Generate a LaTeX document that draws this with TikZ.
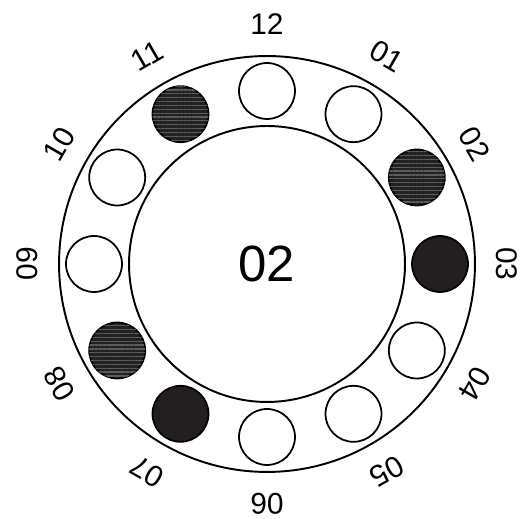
\documentclass[tikz,border=0pt]{standalone}
\usepackage{fontspec}
\setmainfont{Liberation Sans}
\usetikzlibrary{patterns.meta}
\definecolor{holefill}{RGB}{35,31,32}
\definecolor{hatchbase}{RGB}{34,34,34}
\definecolor{hatchline}{RGB}{92,92,92}

\begin{document}
\begin{tikzpicture}[
  x=0.02cm, y=0.02cm,
  ring/.style={draw, circle, line width=1.1pt, inner sep=0pt},
  hole/.style={draw, circle, line width=1pt, minimum size=1.12cm, inner sep=0pt},
  full/.style={hole, fill=holefill},
  part/.style={hole, fill=hatchbase, postaction={pattern={Lines[angle=0, distance=2.2pt, line width=0.7pt]}, pattern color=hatchline}},
  tag/.style={font=\fontsize{17}{20}\selectfont, inner sep=0pt}
]
\useasboundingbox (-267,-255) rectangle (260,264);
\node[ring, minimum size=8.32cm] (outer) at (0,0) {};
\node[ring, minimum size=5.52cm] (inner) at (0,0) {};
\node[font=\fontsize{29}{34}\selectfont] (mid) at (0,0) {02};
% holes round the ring, labels turned outward
\foreach \k/\t/\s in {1/01/hole, 2/02/part, 3/03/full, 4/04/hole, 5/05/hole, 6/06/hole,
                      7/07/full, 8/08/part, 9/09/hole, 10/10/hole, 11/11/part, 12/12/hole} {
  \node[\s] (h\k) at ({90-30*\k}:173) {};
  \node[tag, rotate={-30*\k}] (t\k) at ({90-30*\k}:240) {\t};
}
\end{tikzpicture}
\end{document}
